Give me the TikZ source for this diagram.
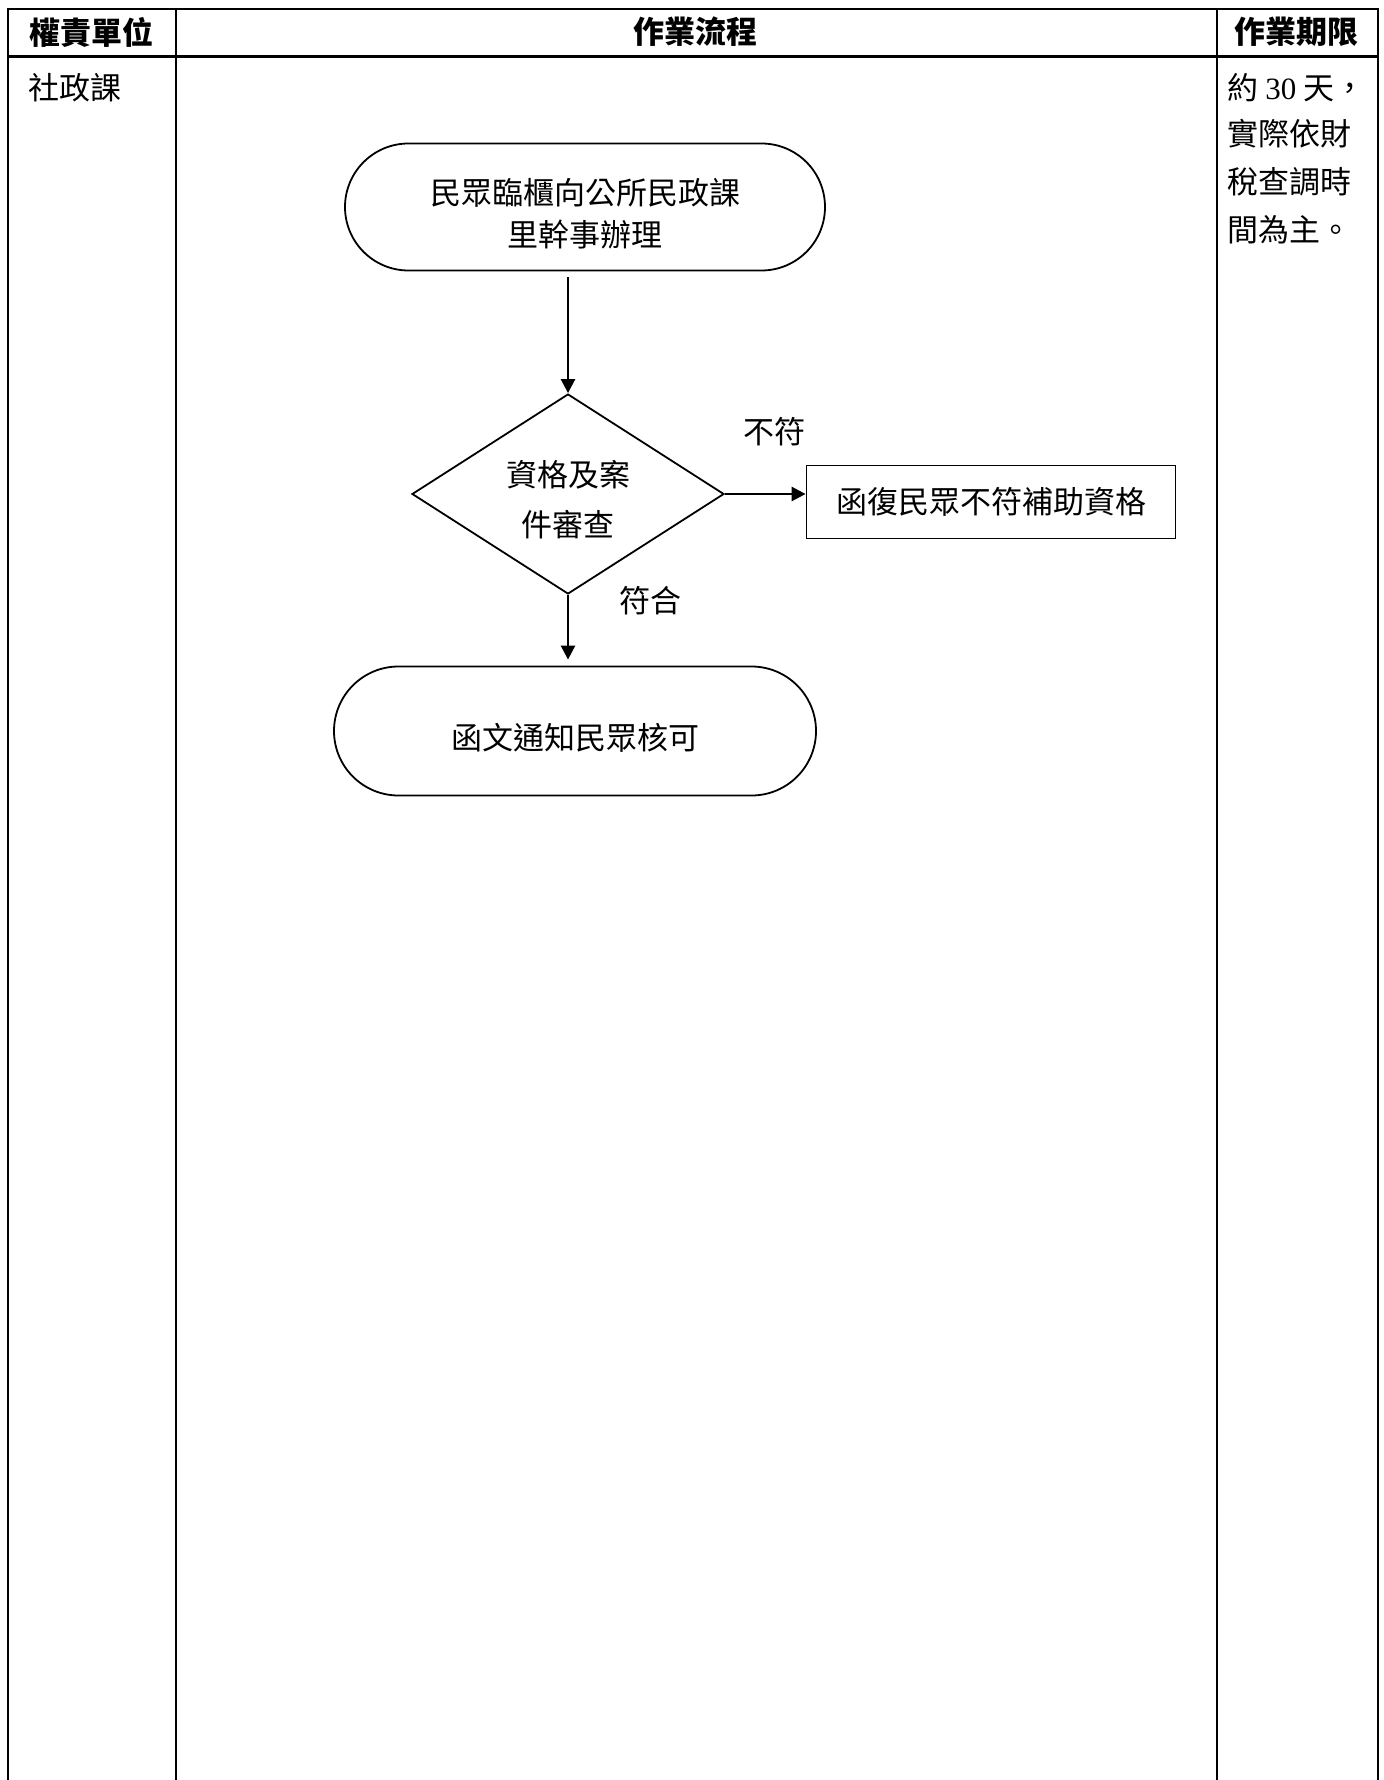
\documentclass[tikz,border=0pt]{standalone}
\usepackage{fontspec}
\setmainfont{Liberation Serif}
\newfontfamily\cjk{Noto Sans CJK TC}
\usetikzlibrary{arrows.meta,positioning,shapes.geometric,shapes.misc}
\tikzset{
termstyle/.style={
  rounded rectangle,
  line width=0.9pt,
  inner sep=0pt,
  minimum width=240pt,
  minimum height=63.5pt,
  align=center,
  draw=black,
  }
}
\tikzset{
decstyle/.style={
  diamond,
  shape aspect=1.56,
  line width=0.9pt,
  inner sep=0pt,
  minimum width=156pt,
  minimum height=100pt,
  align=center,
  draw=black,
  }
}
\tikzset{
boxstyle/.style={
  rectangle,
  line width=0.9pt,
  inner sep=0pt,
  minimum width=184.5pt,
  minimum height=36.5pt,
  draw=black,
  }
}
\tikzset{
myline/.style={
  line width=1.3pt,
  -{Triangle[length=7pt,width=7pt]}
  }
}
\tikzset{
gridline/.style={
  line width=1pt
  }
}

\begin{document}
\begin{tikzpicture}[x=0.5pt,y=-0.5pt,font=\cjk\fontsize{15.5}{21}\selectfont]
    \useasboundingbox (0,0) rectangle (1384,1780);

    % table frame
    \draw[gridline] (8,1780) -- (8,9) -- (1378,9) -- (1378,1780);
    \draw[gridline] (176,9) -- (176,1780);
    \draw[gridline] (1217,9) -- (1217,1780);
    \draw[line width=1.5pt] (8,57) -- (1378,57);

    % header part
    \node[font=\cjk\bfseries\fontsize{15.5}{21}\selectfont] (head_unit) at (91,32) {權責單位};
    \node[font=\cjk\bfseries\fontsize{15.5}{21}\selectfont] (head_flow) at (695,32) {作業流程};
    \node[font=\cjk\bfseries\fontsize{15.5}{21}\selectfont] (head_time) at (1296,32) {作業期限};

    % unit part
    \node[anchor=west, inner sep=0pt] (unit) at (28,88) {社政課};

    % time part
    \node[anchor=west, inner sep=0pt] (time1) at (1227,88) {約 {\rmfamily 30} 天，};
    \node[anchor=west, inner sep=0pt] (time2) at (1227,134) {實際依財};
    \node[anchor=west, inner sep=0pt] (time3) at (1227,182) {稅查調時};
    \node[anchor=west, inner sep=0pt] (time4) at (1227,230) {間為主。};

    % flow part
    \node[termstyle] (start) at (585,207) {\rule{0pt}{19.6pt}民眾臨櫃向公所民政課\\里幹事辦理};
    \node[decstyle] (check) at (568,494) {\rule{0pt}{18.6pt}資格及案\\[4pt]件審查};
    \node[boxstyle] (reject) at (991,502) {函復民眾不符補助資格};
    \node[termstyle, minimum width=241pt, minimum height=64.5pt] (approve) at (575,731) {\rule{0pt}{19.6pt}函文通知民眾核可};

    % labels
    \node[] (lab_no) at (774,432) {不符};
    \node[] (lab_yes) at (650,601) {符合};

    % flow edges
    \draw[myline] ([yshift=-3pt]start.south -| check.north) -- (check.north);
    \draw[myline] (check.east) -- (check.east -| reject.west);
    \draw[myline, shorten >=3pt] (check.south) -- (check.south |- approve.north);
\end{tikzpicture}
\end{document}
